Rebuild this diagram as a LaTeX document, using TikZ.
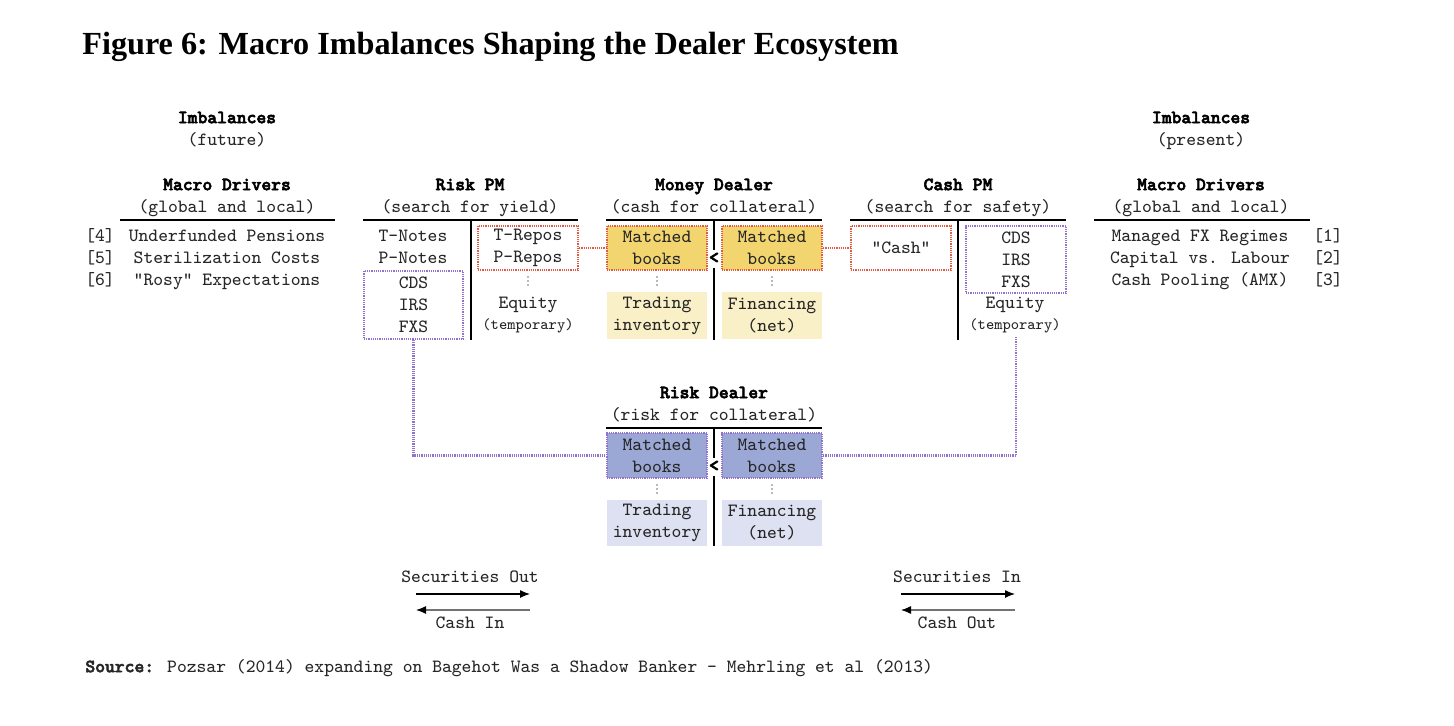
\documentclass[tikz,border=0pt]{standalone}
\usepackage{fontspec}
\setmainfont{Liberation Serif}
\newfontfamily\hdrfont[FakeBold=3]{lmmonolt10-bold.otf}
\usetikzlibrary{arrows.meta}
\definecolor{myred}{RGB}{228,90,65}
\definecolor{mypurp}{RGB}{145,115,205}
\definecolor{ydark}{RGB}{242,213,110}
\definecolor{ylight}{RGB}{250,240,200}
\definecolor{bdark}{RGB}{155,168,214}
\definecolor{blight}{RGB}{221,225,241}
\newcommand\mydots[2]{\fill[black!55] (#1,#2-4) circle (0.45pt) (#1,#2) circle (0.45pt) (#1,#2+4) circle (0.45pt);}
\begin{document}
\begin{tikzpicture}[x=0.5pt,y=-0.5pt,
  txt/.style={font=\fontsize{9.35}{11}\selectfont\ttfamily, inner sep=0pt, align=center, text=black!85},
  one/.style={txt, text height=5.8pt, text depth=1.6pt},
  hdr/.style={one, font=\fontsize{9.35}{11}\selectfont\hdrfont, text=black},
  smalltxt/.style={one, font=\fontsize{7.8}{9}\selectfont\ttfamily},
  bx/.style={txt, minimum width=50pt, minimum height=22pt},
  redbox/.style={bx, draw=myred, dash pattern=on 0.6pt off 0.5pt, line width=1.1pt},
  purpbox/.style={bx, draw=mypurp, dash pattern=on 0.6pt off 0.5pt, line width=1.1pt},
  ybox/.style={redbox, fill=ydark},
  ylbox/.style={bx, fill=ylight, minimum height=23.5pt},
  bbox/.style={purpbox, fill=bdark, minimum height=22.5pt},
  blbox/.style={bx, fill=blight, minimum height=23pt},
  rulel/.style={line width=0.9pt, black},
  divl/.style={line width=1.1pt, black},
  redline/.style={draw=myred, dash pattern=on 0.6pt off 0.5pt, line width=1.1pt},
  purpline/.style={draw=mypurp, dash pattern=on 0.6pt off 0.5pt, line width=1.1pt},
  arr/.style={line width=0.6pt, black, -{Latex[length=5pt,width=4pt]}},
  arrg/.style={line width=0.6pt, black!55, -{Latex[length=5pt,width=4pt,color=black]}}
]
\useasboundingbox (0,0) rectangle (1454,726);
\fill[white] (0,0) rectangle (1454,726);

% Title
\node[anchor=base west, inner sep=0pt, font=\fontsize{16.1}{19}\selectfont\bfseries] (title) at (82,55) {Figure 6: Macro Imbalances Shaping the Dealer Ecosystem};

% Left column
\node[hdr] (imbf) at (227,119) {Imbalances};
\node[one] (imbfs) at (227,141) {(future)};
\node[hdr] (mdl) at (227,186) {Macro Drivers};
\node[one] (mdls) at (227,208) {(global and local)};
\draw[rulel] (120,220) -- (335,220);
\node[one] (n4) at (100,237) {[4]};
\node[one] (l4) at (227,237) {Underfunded Pensions};
\node[one] (n5) at (100,259) {[5]};
\node[one] (l5) at (227,259) {Sterilization Costs};
\node[one] (n6) at (100,281) {[6]};
\node[one] (l6) at (227,281) {"Rosy" Expectations};

% Right column
\node[hdr] (imbp) at (1201,119) {Imbalances};
\node[one] (imbps) at (1201,141) {(present)};
\node[hdr] (mdr) at (1201,186) {Macro Drivers};
\node[one] (mdrs) at (1201,208) {(global and local)};
\draw[rulel] (1094,220) -- (1310,220);
\node[one] (r1) at (1200,237) {Managed FX Regimes};
\node[one] (m1) at (1328,237) {[1]};
\node[one] (r2) at (1200,259) {Capital vs. Labour};
\node[one] (m2) at (1328,259) {[2]};
\node[one] (r3) at (1200,281) {Cash Pooling (AMX)};
\node[one] (m3) at (1328,281) {[3]};

% Risk PM
\node[hdr] (rpm) at (470,186) {Risk PM};
\node[one] (rpms) at (470,208) {(search for yield)};
\draw[rulel] (363,220) -- (578,220);
\draw[divl] (471,220) -- (471,340);
\node[one] (tn) at (413,237) {T-Notes};
\node[one] (pn) at (413,259) {P-Notes};
\node[purpbox, minimum width=49.5pt, minimum height=34pt] (rpmd) at (413.5,305) {CDS\\IRS\\FXS};
\node[redbox] (trepos) at (528,248) {T-Repos\\P-Repos};
\mydots{528}{281}
\node[one] (eq1) at (528,304) {Equity};
\node[smalltxt] (tmp1) at (528,325) {(temporary)};

% Money Dealer
\node[hdr] (md) at (714,186) {Money Dealer};
\node[one] (mds) at (714,208) {(cash for collateral)};
\draw[rulel] (606,220) -- (822,220);
\draw[divl] (714,220) -- (714,250);
\draw[divl] (714,268) -- (714,340);
\node[hdr] (lt1) at (714,259) {<};
\node[ybox] (mbl) at (657,248) {Matched\\books};
\node[ybox] (mbr) at (772,248) {Matched\\books};
\mydots{657}{281}
\mydots{772}{281}
\node[ylbox] (trd) at (657,315.5) {Trading\\inventory};
\node[ylbox] (fin) at (772,315.5) {Financing\\(net)};

% Cash PM
\node[hdr] (cpm) at (958,186) {Cash PM};
\node[one] (cpms) at (958,208) {(search for safety)};
\draw[rulel] (850,220) -- (1066,220);
\draw[divl] (958,220) -- (958,340);
\node[redbox] (cash) at (901,248) {"Cash"};
\node[purpbox, minimum height=33.5pt] (cpmd) at (1016,259.5) {CDS\\IRS\\FXS};
\node[one] (eq2) at (1015,304) {Equity};
\node[smalltxt] (tmp2) at (1015,325) {(temporary)};
\coordinate (cpme) at (1016,337);

% Risk Dealer
\node[hdr] (rd) at (714,394) {Risk Dealer};
\node[one] (rds) at (714,416) {(risk for collateral)};
\draw[rulel] (606,428) -- (822,428);
\draw[divl] (714,428) -- (714,458);
\draw[divl] (714,476) -- (714,546);
\node[hdr] (lt2) at (714,467) {<};
\node[bbox] (rbl) at (657,455.5) {Matched\\books};
\node[bbox] (rbr) at (772,455.5) {Matched\\books};
\mydots{657}{489}
\mydots{772}{489}
\node[blbox] (rtrd) at (657,523) {Trading\\inventory};
\node[blbox] (rfin) at (772,523) {Financing\\(net)};

% Connectors
\draw[redline] (trepos.east) -- (mbl.west);
\draw[redline] (mbr.east) -- (cash.west);
\draw[purpline] (rpmd.south) |- (rbl.west);
\draw[purpline] (rbr.east) -| (cpme);

% Legend arrows
\node[one] (so) at (470,578) {Securities Out};
\coordinate (a1) at (416,594);
\coordinate (a2) at (530,594);
\coordinate (a3) at (530,610);
\coordinate (a4) at (416,610);
\draw[arr] (a1) -- (a2);
\draw[arrg] (a3) -- (a4);
\node[one] (ci) at (470,624) {Cash In};

\node[one] (si) at (957,578) {Securities In};
\coordinate (b1) at (901,594);
\coordinate (b2) at (1015,594);
\coordinate (b3) at (1015,610);
\coordinate (b4) at (901,610);
\draw[arr] (b1) -- (b2);
\draw[arrg] (b3) -- (b4);
\node[one] (co) at (957,624) {Cash Out};

% Source
\node[one, anchor=west] (src) at (85,668) {{\hdrfont Source:} Pozsar (2014) expanding on Bagehot Was a Shadow Banker - Mehrling et al (2013)};
\end{tikzpicture}
\end{document}
